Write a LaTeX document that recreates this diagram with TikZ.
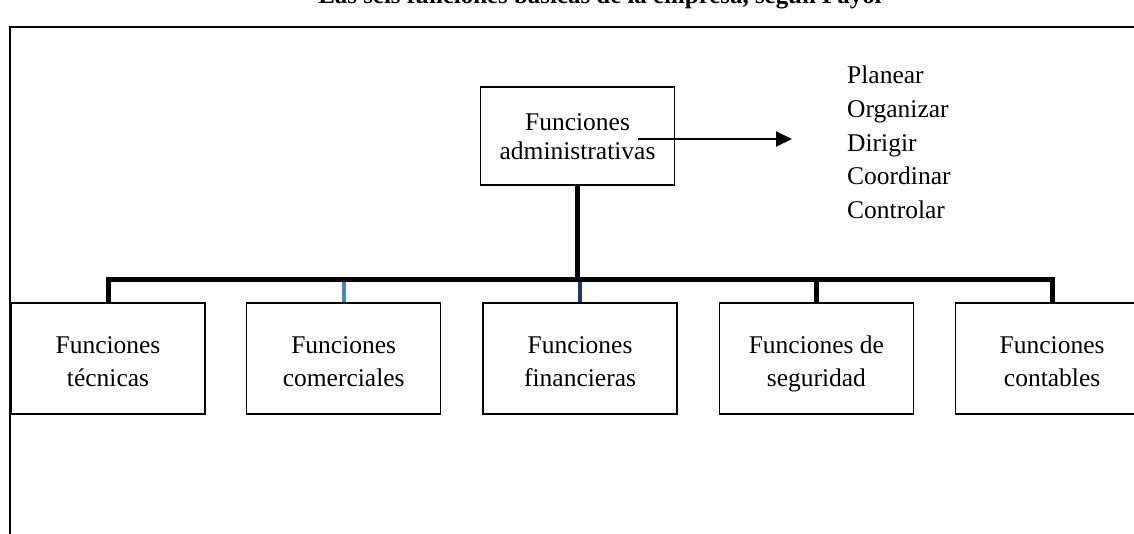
\documentclass[tikz,border=0pt]{standalone}
\usepackage{fontspec}
\setmainfont{Liberation Serif}
\usepackage{xcolor}
\usetikzlibrary{positioning,arrows.meta,calc}
\definecolor{linkblue}{HTML}{4F81BD}
\definecolor{linknavy}{HTML}{1F3864}

\begin{document}
\begin{tikzpicture}[x=1pt, y=-1pt,
          node distance=40.5pt,
          box/.style={draw, line width=1.2pt, minimum width=194pt, minimum height=111pt, align=center, inner sep=0pt, text height=55pt, text depth=0pt, font=\fontsize{25.5}{33}\selectfont},
          trunk/.style={line width=5pt},
          link/.style={line width=4pt},
          arr/.style={-{Triangle[length=16pt,width=15pt]}, line width=2pt}
      ]
        \useasboundingbox (0,0) rectangle (1134,533);
        \clip (0,0) rectangle (1134,533);
        % frame
        \draw[line width=2.5pt] (10,27) rectangle (1160,560);
        \node[font=\bfseries\fontsize{24.9}{29}\selectfont, anchor=base] (title) at (600,3) {Las seis funciones básicas de la empresa, según Fayol};
        \node[box, minimum height=98pt, text height=46pt, font=\fontsize{25.5}{29}\selectfont] (adm) at (577.5,136) {Funciones\\administrativas};
        \node[align=left, anchor=north west, inner sep=0pt, font=\fontsize{25.5}{33.7}\selectfont] (verbs) at (847,66) {Planear\\Organizar\\Dirigir\\Coordinar\\Controlar};
        \node[box] (tec) at (108,358.5) {Funciones\\técnicas};
        \node[box, right=of tec] (com) {Funciones\\comerciales};
        \node[box, right=of com, line width=2.5pt] (fin) {Funciones\\financieras};
        \node[box, right=of fin] (seg) {Funciones de\\seguridad};
        \node[box, right=of seg] (con) {Funciones\\contables};
        \coordinate (bar) at ($(tec.north)+(0,-23)$);
        \coordinate (arrS) at (638,139);
        \coordinate (arrE) at (792,139);
        \draw[arr] (arrS) -- (arrE);
        \draw[link, linkblue] (com.north) -- (com.north |- bar);
        \draw[link, linknavy] (fin.north) -- (fin.north |- bar);
        \draw[trunk] (tec.north) -- (bar) -| (con.north);
        \draw[trunk] (adm.south) -- (adm.south |- bar);
        \draw[trunk] (seg.north) -- (seg.north |- bar);
      \end{tikzpicture}
\end{document}
